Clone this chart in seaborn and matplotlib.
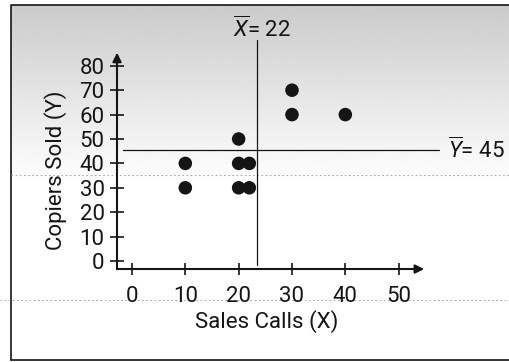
import warnings
warnings.filterwarnings('ignore')

import matplotlib
matplotlib.use('Agg')
import matplotlib.pyplot as plt
import numpy as np
import pandas as pd
import seaborn as sns

# data
sales_calls = [10, 10, 20, 20, 20, 22, 22, 30, 30, 40]
copiers_sold = [40, 30, 50, 40, 30, 40, 30, 70, 60, 60]
x_ticks = [0, 10, 20, 30, 40, 50]
y_ticks = [0, 10, 20, 30, 40, 50, 60, 70, 80]
x_mean_text = '22'
y_mean_text = '45'
x_mean_line = 23.4   # where the printed vertical line sits
y_mean_line = 45.5

sns.set_style('white')
plt.rcParams['font.family'] = ['Roboto', 'DejaVu Sans']
plt.rcParams['mathtext.fontset'] = 'custom'
plt.rcParams['mathtext.rm'] = 'Roboto'
plt.rcParams['mathtext.it'] = 'Roboto:italic'

ink = '#151515'
fs = 16
df = pd.DataFrame({'Sales Calls (X)': sales_calls, 'Copiers Sold (Y)': copiers_sold})

W, H = 509, 362
fig = plt.figure(figsize=(W / 100, H / 100), dpi=100)

# background: grey scan tone fading out, plus the frame
bg = fig.add_axes([0, 0, 1, 1], zorder=0)
bg.set_xlim(0, W)
bg.set_ylim(H, 0)
bg.axis('off')
rows = np.arange(H, dtype=float)
shade = np.clip(0.80 + 0.20 * (rows - 5) / 175, 0.80, 1.0)
bg.imshow(shade[:, None], extent=(11, W, H, 5), aspect='auto', cmap='gray', vmin=0, vmax=1)
bg.plot([11, 11, W], [360, 5, 5], color=ink, lw=1.2)
bg.plot([11, W], [360, 360], color=ink, lw=1.2)
bg.plot([11, W], [175, 175], color='#9a9a9a', lw=0.6, ls=(0, (2, 3)))
bg.plot([0, W], [300, 300], color='#9a9a9a', lw=0.6, ls=(0, (2, 3)))

ax = fig.add_axes([105.3 / W, (H - 273.2) / H, 346.7 / W, 244 / H], zorder=1)
ax.patch.set_alpha(0)
ax.set_xlim(-5, 60)
ax.set_ylim(-5, 95)

sns.scatterplot(data=df, x='Sales Calls (X)', y='Copiers Sold (Y)', ax=ax,
                color=ink, s=95, edgecolor='none', zorder=5)

# mean lines
ax.plot([x_mean_line, x_mean_line], [-1.8, 90.6], color=ink, lw=0.9)
ax.plot([-1.7, 57.6], [y_mean_line, y_mean_line], color=ink, lw=0.9)
ax.text(24.4, 95, r'$\overline{X}$= ' + x_mean_text, ha='center', va='center',
        fontsize=fs, color=ink, clip_on=False)
ax.text(59.3, y_mean_line, r'$\overline{Y}$= ' + y_mean_text, ha='left', va='center',
        fontsize=fs, color=ink, clip_on=False)

# axes with arrows
for side in ['top', 'right']:
    ax.spines[side].set_visible(False)
ax.spines['left'].set_position(('data', -2.8))
ax.spines['bottom'].set_position(('data', -3.3))
ax.spines['left'].set_bounds(-3.3, 84)
ax.spines['bottom'].set_bounds(-2.8, 53)
for side in ['left', 'bottom']:
    ax.spines[side].set_linewidth(1.5)
    ax.spines[side].set_color(ink)
ax.annotate('', xy=(55.3, -3.3), xytext=(52, -3.3),
            arrowprops=dict(arrowstyle='-|>', color=ink, lw=1.5, mutation_scale=13))
ax.annotate('', xy=(-2.8, 86.5), xytext=(-2.8, 80),
            arrowprops=dict(arrowstyle='-|>', color=ink, lw=1.5, mutation_scale=13))

ax.set_xticks(x_ticks)
ax.set_yticks(y_ticks)
ax.tick_params(axis='x', bottom=True, direction='inout', length=9, width=1.2, color=ink,
               labelsize=fs, labelcolor=ink, pad=8)
ax.tick_params(axis='y', left=True, direction='inout', length=10, width=1.2, color=ink,
               labelsize=fs, labelcolor=ink, pad=4)
ax.set_xlabel('')
ax.set_ylabel('')

fig.text(267 / W, 1 - 322 / H, 'Sales Calls (X)', ha='center', va='center',
         fontsize=fs, color=ink)
fig.text(56 / W, 1 - 170 / H, 'Copiers Sold (Y)', ha='center', va='center',
         rotation=90, fontsize=fs, color=ink)

fig.savefig('out.png', dpi=100)
